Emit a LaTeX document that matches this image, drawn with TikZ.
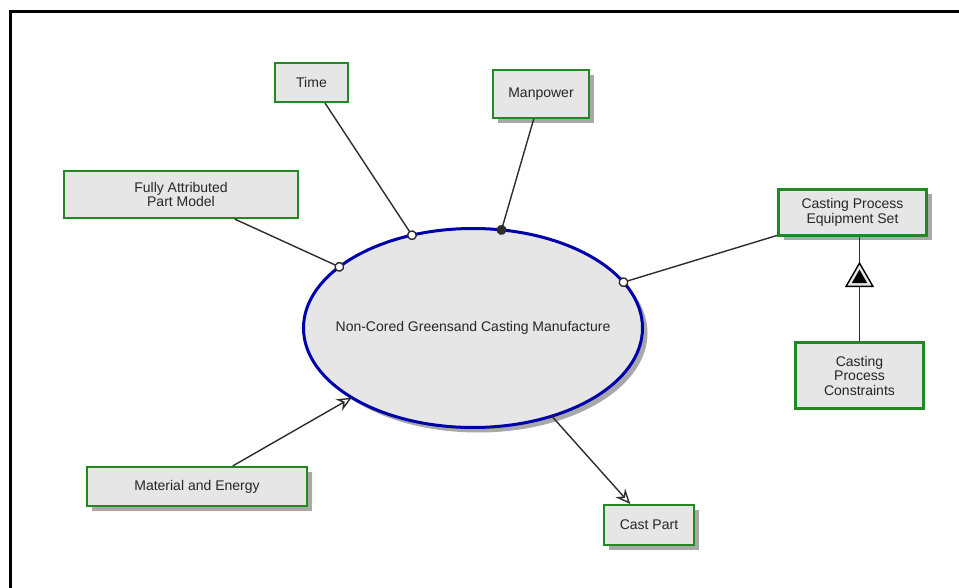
\documentclass[tikz,border=0pt]{standalone}
\usepackage{fontspec}
\setmainfont{Liberation Sans}
\usetikzlibrary {arrows.meta,positioning,shapes.geometric,shadows}

\definecolor{boxfill}{RGB}{230,230,230}
\definecolor{boxline}{RGB}{34,136,34}
\definecolor{procline}{RGB}{0,0,170}
\definecolor{shadowgray}{RGB}{168,168,168}
\definecolor{linkgray}{RGB}{45,45,45}

\begin{document}
\begin{tikzpicture}[x=1pt, y=-1pt, font=\fontsize{14}{14.5}\selectfont,
    shadowed/.style={drop shadow={shadow xshift=5pt, shadow yshift=-5pt, fill=shadowgray, opacity=1}},
    proc/.style={ellipse, draw=procline, fill=boxfill, line width=3pt, outer sep=0pt, inner sep=0pt},
    heavy/.style={line width=3pt},
    ring/.style={-{Circle[open, fill=white, length=10pt]}, shorten >=-5pt},
    dot/.style={-{Circle[length=10pt]}, shorten >=-5pt},
    flow/.style={-{Stealth[open, length=15pt, width=13pt, inset=5pt]}},
    tri/.style={regular polygon, regular polygon sides=3, draw=black, line width=1.4pt, inner sep=0pt}]
      \fill[white] (0,0) rectangle (959,588);
      \useasboundingbox (0,0) rectangle (959,588);
      \draw[line width=3.5pt] (10.5,595) -- (10.5,11.5) -- (959,11.5);

      \node (P) [proc, shadowed, minimum width=339pt, minimum height=199pt,
        label={[text=black!85]center:Non-Cored Greensand Casting Manufacture}] at (473,328) {};

      \begin{scope}[every node/.style={rectangle, draw=boxline, fill=boxfill, line width=2pt,
          align=center, inner sep=0pt, text=black!85}]
        \node (T) [minimum width=73pt, minimum height=39pt] at (311.5,82.5) {Time};
        \node (W) [shadowed, minimum width=96pt, minimum height=48pt] at (541,94) {Manpower};
        \node (F) [minimum width=234pt, minimum height=47pt] at (181,194.5) {Fully Attributed\\Part Model};
        \node (E) [heavy, shadowed, minimum width=148pt, minimum height=46pt] at (852.5,212.5)
          {Casting Process\\Equipment Set};
        \node (C) [heavy, minimum width=128pt, minimum height=66pt] at (859.5,375.5)
          {Casting\\Process\\Constraints};
        \node (M) [shadowed, minimum width=220pt, minimum height=39pt] at (197,486.5) {Material and Energy};
        \node (O) [shadowed, minimum width=90pt, minimum height=40pt] at (649,525) {Cast Part};
      \end{scope}

      \begin{scope}[every edge/.style={draw=linkgray, line width=1.4pt}]
        \path (T) edge[ring] (P)
              (F) edge[ring] (P)
              (E) edge[ring] (P)
              (W) edge[dot] (P)
              (M) edge[flow] (P)
              (P) edge[flow] (O);
      \end{scope}

      \draw[draw=linkgray, line width=1.4pt] (C) -- (C |- E.south)
        node (K) [tri, fill=boxfill, minimum size=31pt, pos=0.6] {};
      \node [tri, fill=black, minimum size=15pt] at (K) {};
    \end{tikzpicture}
\end{document}
